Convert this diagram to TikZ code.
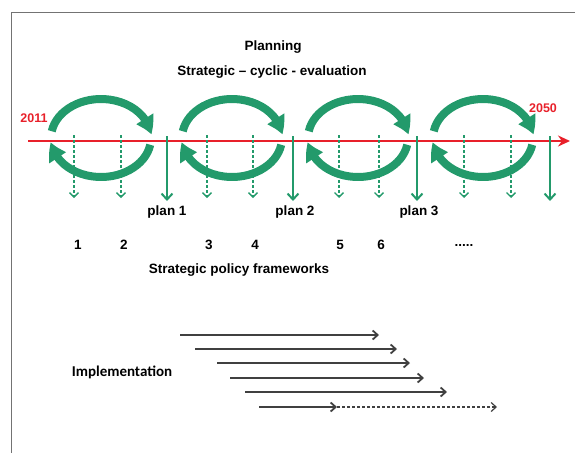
\documentclass[tikz,border=0pt]{standalone}
\usepackage{fontspec}
\setmainfont{Liberation Sans}
\newfontfamily\implfont{Carlito}
\usetikzlibrary{arrows.meta, positioning, bending}

\definecolor{cycgreen}{HTML}{239A6B}
\definecolor{lineRed}{HTML}{E8202A}

\begin{document}
\begin{tikzpicture}[x=1pt, y=-1pt,
  lbl/.style={font=\fontsize{13.5}{15}\selectfont\bfseries, inner sep=0pt},
  cyc/.style={draw=cycgreen, line width=8pt, -{Triangle[width=19pt, length=17pt, bend]}},
  planarrow/.style={draw=cycgreen, line width=2pt, -{Straight Barb[width=11pt, length=6pt]}},
  stagearrow/.style={draw=cycgreen, line width=1.3pt, dash pattern=on 3pt off 2pt,
                     -{Straight Barb[width=9pt, length=4.5pt]}},
  implarrow/.style={draw=black!75, line width=1.8pt, -{Straight Barb[width=9pt, length=5pt]}}
]
  \useasboundingbox (0,0) rectangle (575,453);
  % frame
  \draw[black!55, line width=1pt] (575,12) -- (11,12) -- (11,453);

  % titles
  \node[lbl] (planning) at (273,47) {Planning};
  \node[lbl] (cyclic) at (272,72) {Strategic -- cyclic - evaluation};

  % planning cycles
  \foreach \cx in {101,232,358,483} {
    \draw[cyc] (\cx,138) ++(190:50 and 39) arc[start angle=190, end angle=355, x radius=50, y radius=39];
    \draw[cyc] (\cx,138) ++(10:50 and 39) arc[start angle=10, end angle=174, x radius=50, y radius=39];
  }

  % time line
  \coordinate (tlStart) at (28,141);
  \coordinate (tlEnd) at (570,141);
  \draw[lineRed, line width=2.5pt, -{Stealth[length=12pt, width=11pt]}] (tlStart) -- (tlEnd);
  \node[lbl, text=lineRed, font=\fontsize{12.5}{14}\selectfont\bfseries] (y2011) at (34,118) {2011};
  \node[lbl, text=lineRed, font=\fontsize{12.5}{14}\selectfont\bfseries] (y2050) at (543,108) {2050};

  % strategic policy frameworks
  \foreach \px [count=\k] in {74,121,207,253,339,379,464,511} {
    \coordinate (s\k top) at (\px,135);
    \coordinate (s\k bot) at (\px,198);
    \draw[stagearrow] (s\k top) -- (s\k bot);
  }

  % plans
  \foreach \px [count=\k] in {167,293,417,550} {
    \coordinate (p\k top) at (\px,136);
    \coordinate (p\k bot) at (\px,201);
    \draw[planarrow] (p\k top) -- (p\k bot);
  }
  \node[lbl] (plan1) at (167,212) {plan 1};
  \node[lbl] (plan2) at (295,212) {plan 2};
  \node[lbl] (plan3) at (419,212) {plan 3};

  \node[lbl] (n1) at (78,245) {1};
  \node[lbl] (n2) at (124,245) {2};
  \node[lbl] (n3) at (209,245) {3};
  \node[lbl] (n4) at (255,245) {4};
  \node[lbl] (n5) at (340,245) {5};
  \node[lbl] (n6) at (381,245) {6};
  \node[lbl] (more) at (464,245) {.....};
  \node[lbl] (spf) at (239,270) {Strategic policy frameworks};

  % implementation
  \node[lbl, font=\implfont\fontsize{15}{17}\selectfont\bfseries] (impl) at (122,372) {Implementation};
  \coordinate (i1s) at (180,335); \coordinate (i1e) at (379,335);
  \coordinate (i2s) at (195,349); \coordinate (i2e) at (397,349);
  \coordinate (i3s) at (217,363); \coordinate (i3e) at (410,363);
  \coordinate (i4s) at (230,378); \coordinate (i4e) at (424,378);
  \coordinate (i5s) at (245,392); \coordinate (i5e) at (447,392);
  \coordinate (i6s) at (259,407); \coordinate (i6m) at (337,407); \coordinate (i6e) at (497,407);
  \draw[implarrow] (i1s) -- (i1e);
  \draw[implarrow] (i2s) -- (i2e);
  \draw[implarrow] (i3s) -- (i3e);
  \draw[implarrow] (i4s) -- (i4e);
  \draw[implarrow] (i5s) -- (i5e);
  \draw[implarrow] (i6s) -- (i6m);
  \draw[implarrow, line width=1.2pt, dash pattern=on 3pt off 2pt] (i6m) -- (i6e);
\end{tikzpicture}
\end{document}
